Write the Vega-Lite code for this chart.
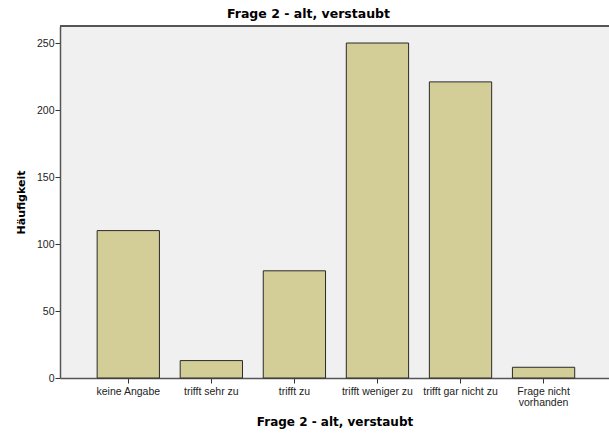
{
  "$schema": "https://vega.github.io/schema/vega-lite/v6.json",
  "autosize": "none",
  "width": 549,
  "height": 352,
  "padding": {"left": 60, "top": 26, "right": 0, "bottom": 55},
  "background": "white",
  "title": {
    "text": "Frage 2 - alt, verstaubt",
    "font": "DejaVu Sans",
    "fontSize": 12.5,
    "fontWeight": "bold",
    "color": "#000000",
    "anchor": "middle",
    "dx": -26,
    "offset": 5
  },
  "data": {
    "values": [
      {"kategorie": "keine Angabe", "haeufigkeit": 110},
      {"kategorie": "trifft sehr zu", "haeufigkeit": 13},
      {"kategorie": "trifft zu", "haeufigkeit": 80},
      {"kategorie": "trifft weniger zu", "haeufigkeit": 250},
      {"kategorie": "trifft gar nicht zu", "haeufigkeit": 221},
      {"kategorie": "Frage nicht vorhanden", "haeufigkeit": 8}
    ]
  },
  "layer": [
    {
      "mark": {"type": "bar", "fill": "#d3ce97", "stroke": "#2a2a2a", "strokeWidth": 1},
      "encoding": {
        "x": {
          "field": "kategorie",
          "type": "nominal",
          "sort": null,
          "title": "Frage 2 - alt, verstaubt",
          "scale": {"paddingInner": 0.25, "paddingOuter": 0.43, "align": 0.52},
          "axis": {
            "labelAngle": 0,
            "labelFont": "Liberation Sans",
            "labelFontSize": 10.5,
            "labelColor": "#222222",
            "labelPadding": 3,
            "labelLineHeight": 11,
            "labelExpr": "datum.value == 'Frage nicht vorhanden' ? ['Frage nicht', 'vorhanden'] : datum.value",
            "tickSize": 5,
            "tickColor": "#333333",
            "domainColor": "#555555",
            "domainWidth": 1.5,
            "titleFont": "DejaVu Sans",
            "titleFontSize": 12,
            "titleFontWeight": "bold",
            "titleColor": "#000000",
            "titlePadding": 9
          }
        },
        "y": {
          "field": "haeufigkeit",
          "type": "quantitative",
          "title": "Häufigkeit",
          "scale": {"domain": [0, 262.7], "nice": false},
          "axis": {
            "values": [0, 50, 100, 150, 200, 250],
            "grid": false,
            "labelFont": "Liberation Sans",
            "labelFontSize": 10.5,
            "labelColor": "#222222",
            "labelPadding": 1,
            "tickSize": 5,
            "tickColor": "#333333",
            "domainColor": "#555555",
            "domainWidth": 1.5,
            "titleFont": "DejaVu Sans",
            "titleFontSize": 11,
            "titleFontWeight": "bold",
            "titleColor": "#000000",
            "titlePadding": 10
          }
        }
      }
    },
    {
      "mark": {"type": "rule", "color": "#555555", "strokeWidth": 1.5},
      "encoding": {"y": {"datum": 262.7}}
    }
  ],
  "config": {
    "view": {"fill": "#f0f0f0", "stroke": null}
  }
}
